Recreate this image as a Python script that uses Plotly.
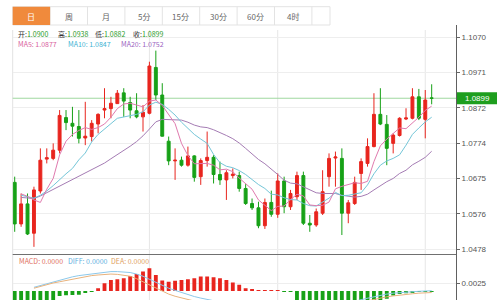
import plotly.graph_objects as go

W, H = 500, 300
def fx(x): return x / W
def fy(y): return 1 - y / H

# ---------------- data ----------------
opens = [1.0664,1.0548,1.0604,1.0522,1.0640,1.0729,1.0731,1.0754,1.0845,1.0829,
         1.0820,1.0788,1.0792,1.0827,1.0866,1.0870,1.0884,1.0914,1.0887,1.0864,
         1.0847,1.0857,1.0985,1.0908,1.0779,1.0724,1.0726,1.0712,1.0738,1.0680,
         1.0725,1.0734,1.0686,1.0671,1.0683,1.0683,1.0647,1.0605,1.0593,1.0543,
         1.0608,1.0575,1.0668,1.0596,1.0624,1.0683,1.0550,1.0545,1.0578,1.0680,
         1.0732,1.0731,1.0578,1.0605,1.0689,1.0717,1.0764,1.0854,1.0826,1.0773,
         1.0795,1.0841,1.0843,1.0903,1.0840,1.0900]
highs = [1.0680,1.0633,1.0633,1.0652,1.0759,1.0759,1.0773,1.0866,1.0866,1.0875,
         1.0866,1.0889,1.0838,1.0857,1.0927,1.0903,1.0922,1.0927,1.0903,1.0913,
         1.0880,1.1001,1.1032,1.0941,1.0792,1.0759,1.0736,1.0764,1.0740,1.0731,
         1.0806,1.0740,1.0722,1.0698,1.0703,1.0694,1.0659,1.0619,1.0610,1.0619,
         1.0641,1.0689,1.0680,1.0643,1.0694,1.0694,1.0573,1.0591,1.0698,1.0745,
         1.0750,1.0759,1.0615,1.0680,1.0731,1.0787,1.0913,1.0927,1.0852,1.0801,
         1.0846,1.0871,1.0927,1.0925,1.0922,1.0938]
lows = [1.0526,1.0540,1.0517,1.0484,1.0633,1.0717,1.0726,1.0745,1.0810,1.0792,
        1.0773,1.0768,1.0778,1.0801,1.0843,1.0843,1.0883,1.0847,1.0843,1.0843,
        1.0806,1.0854,1.0894,1.0792,1.0712,1.0671,1.0708,1.0708,1.0666,1.0657,
        1.0708,1.0661,1.0657,1.0615,1.0675,1.0638,1.0601,1.0587,1.0536,1.0534,
        1.0568,1.0565,1.0578,1.0587,1.0615,1.0545,1.0526,1.0540,1.0573,1.0652,
        1.0652,1.0517,1.0550,1.0601,1.0643,1.0708,1.0762,1.0824,1.0712,1.0745,
        1.0792,1.0838,1.0840,1.0838,1.0787,1.0882]
closes = [1.0548,1.0604,1.0520,1.0643,1.0726,1.0733,1.0754,1.0851,1.0831,1.0821,
          1.0787,1.0793,1.0829,1.0854,1.0870,1.0885,1.0913,1.0891,1.0866,1.0847,
          1.0860,1.0989,1.0908,1.0793,1.0724,1.0726,1.0712,1.0738,1.0678,1.0725,
          1.0734,1.0686,1.0671,1.0691,1.0687,1.0647,1.0605,1.0593,1.0543,1.0608,
          1.0575,1.0668,1.0596,1.0633,1.0683,1.0550,1.0545,1.0582,1.0638,1.0731,
          1.0735,1.0578,1.0607,1.0664,1.0722,1.0764,1.0854,1.0827,1.0759,1.0796,
          1.0843,1.0844,1.0903,1.0843,1.0894,1.0899]
ma5 = [None,1.0632,1.0625,1.0615,1.0608,1.0645,1.0675,1.0741,1.0779,1.0798,
       1.0809,1.0817,1.0812,1.0817,1.0827,1.0846,1.0870,1.0883,1.0885,1.0880,
       1.0875,1.0891,1.0894,1.0879,1.0855,1.0828,1.0773,1.0739,1.0716,1.0716,
       1.0717,1.0712,1.0699,1.0701,1.0694,1.0676,1.0660,1.0645,1.0615,1.0599,
       1.0585,1.0597,1.0598,1.0616,1.0631,1.0626,1.0601,1.0599,1.0600,1.0609,
       1.0646,1.0653,1.0658,1.0663,1.0661,1.0667,1.0722,1.0766,1.0785,1.0800,
       1.0816,1.0814,1.0829,1.0846,1.0865,1.0877]
ma10 = [None,1.0628,1.0625,1.0620,1.0628,1.0640,1.0655,1.0672,1.0688,1.0703,
        1.0727,1.0746,1.0777,1.0798,1.0812,1.0828,1.0843,1.0847,1.0851,1.0854,
        1.0861,1.0880,1.0888,1.0882,1.0868,1.0852,1.0832,1.0816,1.0798,1.0785,
        1.0773,1.0742,1.0719,1.0709,1.0705,1.0697,1.0686,1.0672,1.0658,1.0647,
        1.0631,1.0629,1.0621,1.0616,1.0615,1.0605,1.0599,1.0598,1.0608,1.0620,
        1.0636,1.0627,1.0628,1.0631,1.0635,1.0657,1.0688,1.0712,1.0724,1.0731,
        1.0741,1.0768,1.0798,1.0816,1.0833,1.0846]
ma20 = [None,1.0622,1.0620,1.0619,1.0626,1.0635,1.0644,1.0653,1.0662,1.0671,
        1.0680,1.0689,1.0698,1.0708,1.0718,1.0730,1.0741,1.0752,1.0765,1.0778,
        1.0794,1.0813,1.0833,1.0840,1.0840,1.0840,1.0838,1.0832,1.0824,1.0819,
        1.0817,1.0811,1.0804,1.0795,1.0786,1.0774,1.0759,1.0744,1.0728,1.0716,
        1.0702,1.0686,1.0670,1.0662,1.0660,1.0651,1.0643,1.0635,1.0633,1.0633,
        1.0633,1.0628,1.0625,1.0623,1.0625,1.0631,1.0643,1.0655,1.0666,1.0675,
        1.0689,1.0698,1.0713,1.0723,1.0734,1.0751]
macd_hist = [-0.0042,-0.0045,-0.0046,-0.0044,-0.0040,-0.0036,-0.0031,-0.0016,-0.0014,-0.0013,
             -0.0012,-0.0006,-0.0002,0.0009,0.0025,0.0036,0.0038,0.0041,0.0049,0.0055,
             0.0063,0.0074,0.0052,0.0034,0.0030,0.0033,0.0036,0.0038,0.0041,0.0047,
             0.0047,0.0045,0.0041,0.0036,0.0028,0.0020,0.0009,0.0004,0.0001,0.0003,
             0.0002,0.0003,-0.0002,-0.0003,-0.0035,-0.0038,-0.0040,-0.0041,-0.0040,-0.0038,
             -0.0036,-0.0035,-0.0034,-0.0033,-0.0032,-0.0031,-0.0030,-0.0029,-0.0025,-0.0015,
             -0.0010,-0.0007,-0.0005,-0.0003,-0.0002,-0.0001]
diff = [None,None,None,0.0012,0.0018,0.0024,0.0030,0.0036,0.0042,0.0046,
        0.0050,0.0053,0.0056,0.0059,0.0061,0.0063,0.0063,0.0062,0.0060,0.0055,
        0.0048,0.0038,0.0028,0.0018,0.0009,0.0002,-0.0005,-0.0012,-0.0018,-0.0023,
        -0.0028,-0.0033,-0.0037,-0.0040,-0.0043,-0.0046,-0.0048,-0.0050,-0.0052,-0.0053,
        -0.0054,-0.0054,-0.0053,-0.0052,-0.0051,-0.0050,-0.0049,-0.0047,-0.0045,-0.0043,
        -0.0041,-0.0040,-0.0038,-0.0034,-0.0028,-0.0023,-0.0018,-0.0014,-0.0010,-0.0007,
        -0.0005,-0.0003,-0.0002,-0.0001,0.0000,0.0001]
dea = [None,None,None,0.0009,0.0015,0.0021,0.0026,0.0030,0.0034,0.0039,
       0.0043,0.0047,0.0050,0.0052,0.0054,0.0055,0.0054,0.0052,0.0048,0.0040,
       0.0030,0.0020,0.0008,-0.0002,-0.0010,-0.0017,-0.0023,-0.0029,-0.0034,-0.0038,
       -0.0041,-0.0043,-0.0045,-0.0047,-0.0048,-0.0049,-0.0050,-0.0050,-0.0050,-0.0050,
       -0.0050,-0.0049,-0.0048,-0.0047,-0.0046,-0.0045,-0.0044,-0.0043,-0.0042,-0.0041,
       -0.0040,-0.0039,-0.0038,-0.0037,-0.0036,-0.0032,-0.0027,-0.0023,-0.0019,-0.0016,
       -0.0013,-0.0011,-0.0009,-0.0007,-0.0006,-0.0005]
price_ticks = ["1.1070", "1.0971", "1.0872", "1.0774", "1.0675", "1.0576", "1.0478"]
macd_ticks = ["0.0025"]
tabs = ["日", "周", "月", "5分", "15分", "30分", "60分", "4时"]
grid_candles = [22, 42, 65]
info_ohlc = [("开", "1.0900"), ("高", "1.0938"), ("低", "1.0882"), ("收", "1.0899")]
info_ma = ["MA5: 1.0877", "MA10: 1.0847", "MA20: 1.0752"]
info_macd = ["MACD: 0.0000", "DIFF: 0.0000", "DEA: 0.0000"]

# ---------------- geometry ----------------
idx = list(range(1, len(closes) + 1))
X0, X1 = 12.7, 456.0
C0, DC = 14.7, 6.415
def xv(p): return 1 + (p - C0) / DC
xr = [xv(X0), xv(X1)]
k = (1.1070 - 1.0478) / 212.0
def pv(y): return 1.1070 - (y - 37) * k
yr = [pv(254), pv(30)]
m = 0.0025 / 7.7
yr2 = [-(300 - 291) * m, (291 - 256) * m]

RED = "#e8251e"
GREEN = "#17a117"
C_MA5, C_MA10, C_MA20 = "#e07aae", "#74c6d8", "#a57cb4"
FONT = "Noto Sans CJK SC, Noto Sans, sans-serif"

fig = go.Figure()
fig.add_trace(go.Candlestick(
    x=idx, open=opens, high=highs, low=lows, close=closes,
    increasing=dict(line=dict(color=RED, width=1), fillcolor=RED),
    decreasing=dict(line=dict(color=GREEN, width=1), fillcolor=GREEN),
    whiskerwidth=0, showlegend=False, hoverinfo="skip", xaxis="x", yaxis="y"))
for ys, c in [(ma20, C_MA20), (ma10, C_MA10), (ma5, C_MA5)]:
    fig.add_trace(go.Scatter(x=idx, y=ys, mode="lines", line=dict(color=c, width=1),
                             showlegend=False, hoverinfo="skip", xaxis="x", yaxis="y"))

fig.add_trace(go.Bar(x=idx, y=macd_hist, width=0.6,
                     marker=dict(color=[RED if v >= 0 else GREEN for v in macd_hist], line=dict(width=0)),
                     showlegend=False, hoverinfo="skip", xaxis="x2", yaxis="y2"))
fig.add_trace(go.Scatter(x=idx, y=diff, mode="lines", line=dict(color="#8cc8ea", width=1),
                         showlegend=False, hoverinfo="skip", xaxis="x2", yaxis="y2"))
fig.add_trace(go.Scatter(x=idx, y=dea, mode="lines", line=dict(color="#e8b27c", width=1),
                         showlegend=False, hoverinfo="skip", xaxis="x2", yaxis="y2"))

shapes = []
for c in grid_candles:
    shapes.append(dict(type="line", xref="x", yref="paper", x0=c, x1=c, y0=0, y1=fy(30),
                       line=dict(color="#e6e6e6", width=1), layer="below"))
shapes.append(dict(type="line", xref="paper", yref="paper", x0=fx(X0), x1=fx(X0), y0=0, y1=fy(30),
                   line=dict(color="#e2e2e2", width=1), layer="below"))
shapes.append(dict(type="line", xref="paper", yref="paper", x0=fx(X0), x1=fx(X1 + 0.5), y0=fy(254.5), y1=fy(254.5),
                   line=dict(color="#707070", width=1)))
shapes.append(dict(type="line", xref="paper", yref="paper", x0=fx(X1 + 0.5), x1=fx(X1 + 0.5), y0=0, y1=fy(25),
                   line=dict(color="#606060", width=1)))
last = closes[-1]
shapes.append(dict(type="line", xref="paper", yref="y", x0=fx(X0), x1=fx(X1), y0=last, y1=last,
                   line=dict(color="#9fd89f", width=1), layer="below"))
shapes.append(dict(type="rect", xref="paper", yref="y", x0=fx(457), x1=fx(497),
                   y0=last - 6 * k, y1=last + 6 * k, fillcolor="#1e9e1e", line=dict(width=0)))
shapes.append(dict(type="rect", xref="paper", yref="paper", x0=fx(12.7), x1=fx(330), y0=fy(25), y1=fy(6.7),
                   line=dict(color="#e3e3e3", width=1), fillcolor="white"))
TW = 37.4
for i in range(1, len(tabs) + 1):
    xs = 12.7 + i * TW
    shapes.append(dict(type="line", xref="paper", yref="paper", x0=fx(xs), x1=fx(xs), y0=fy(25), y1=fy(6.7),
                       line=dict(color="#e3e3e3", width=1)))
shapes.append(dict(type="rect", xref="paper", yref="paper", x0=fx(12.7), x1=fx(12.7 + TW), y0=fy(25), y1=fy(6.7),
                   line=dict(width=0), fillcolor="#f08a3c"))

ann = []
for i, t in enumerate(tabs):
    ann.append(dict(xref="paper", yref="paper", x=fx(12.7 + (i + 0.5) * TW), y=fy(16), text=t,
                    showarrow=False, xanchor="center", yanchor="middle", borderpad=0,
                    font=dict(family=FONT, size=8, color="white" if i == 0 else "#666")))
ox = [16.5, 56.5, 93.5, 131.5]
for (lab, val), x in zip(info_ohlc, ox):
    ann.append(dict(xref="paper", yref="paper", x=fx(x), y=fy(34), borderpad=0,
                    text=f"{lab}:<span style='color:#2a9a2a'>{val}</span>",
                    showarrow=False, xanchor="left", yanchor="middle",
                    font=dict(family=FONT, size=7, color="#333")))
for t, x, c in zip(info_ma, [16.5, 66.5, 120], ["#d9609e", "#3db3d3", "#9a5fc0"]):
    ann.append(dict(xref="paper", yref="paper", x=fx(x), y=fy(44), text=t, borderpad=0,
                    showarrow=False, xanchor="left", yanchor="middle",
                    font=dict(family=FONT, size=7, color=c)))
for t, x, c in zip(info_macd, [17.5, 66.5, 110], ["#e07060", "#5fb0e0", "#e0a060"]):
    ann.append(dict(xref="paper", yref="paper", x=fx(x), y=fy(260.5), text=t, borderpad=0,
                    showarrow=False, xanchor="left", yanchor="middle",
                    font=dict(family=FONT, size=7, color=c)))
ann.append(dict(xref="paper", yref="y", x=fx(477), y=last, text=f"{last:.4f}", showarrow=False,
                borderpad=0, xanchor="center", yanchor="middle",
                font=dict(family="Arial", size=8, color="white")))

fig.update_layout(
    width=W, height=H, margin=dict(l=0, r=0, t=0, b=0),
    paper_bgcolor="white", plot_bgcolor="white", showlegend=False,
    boxgap=0.35,
    xaxis=dict(domain=[fx(X0), fx(X1)], range=xr, visible=False, rangeslider=dict(visible=False),
               anchor="y"),
    xaxis2=dict(domain=[fx(X0), fx(X1)], range=xr, visible=False, anchor="y2"),
    yaxis=dict(domain=[fy(254), fy(30)], range=yr, side="right", anchor="x",
               tickvals=[float(t) for t in price_ticks], ticktext=price_ticks,
               showgrid=True, gridcolor="#eeeeee", gridwidth=1, zeroline=False, showline=False,
               ticks="outside", ticklen=3, tickcolor="#666",
               tickfont=dict(family="Arial", size=8, color="#555")),
    yaxis2=dict(domain=[0, fy(256)], range=yr2, side="right", anchor="x2",
                tickvals=[float(t) for t in macd_ticks], ticktext=macd_ticks,
                showgrid=True, gridcolor="#eeeeee", zeroline=False, showline=False,
                ticks="outside", ticklen=3, tickcolor="#666",
                tickfont=dict(family="Arial", size=8, color="#555")),
    shapes=shapes, annotations=ann,
)
fig.write_html("out.html")
